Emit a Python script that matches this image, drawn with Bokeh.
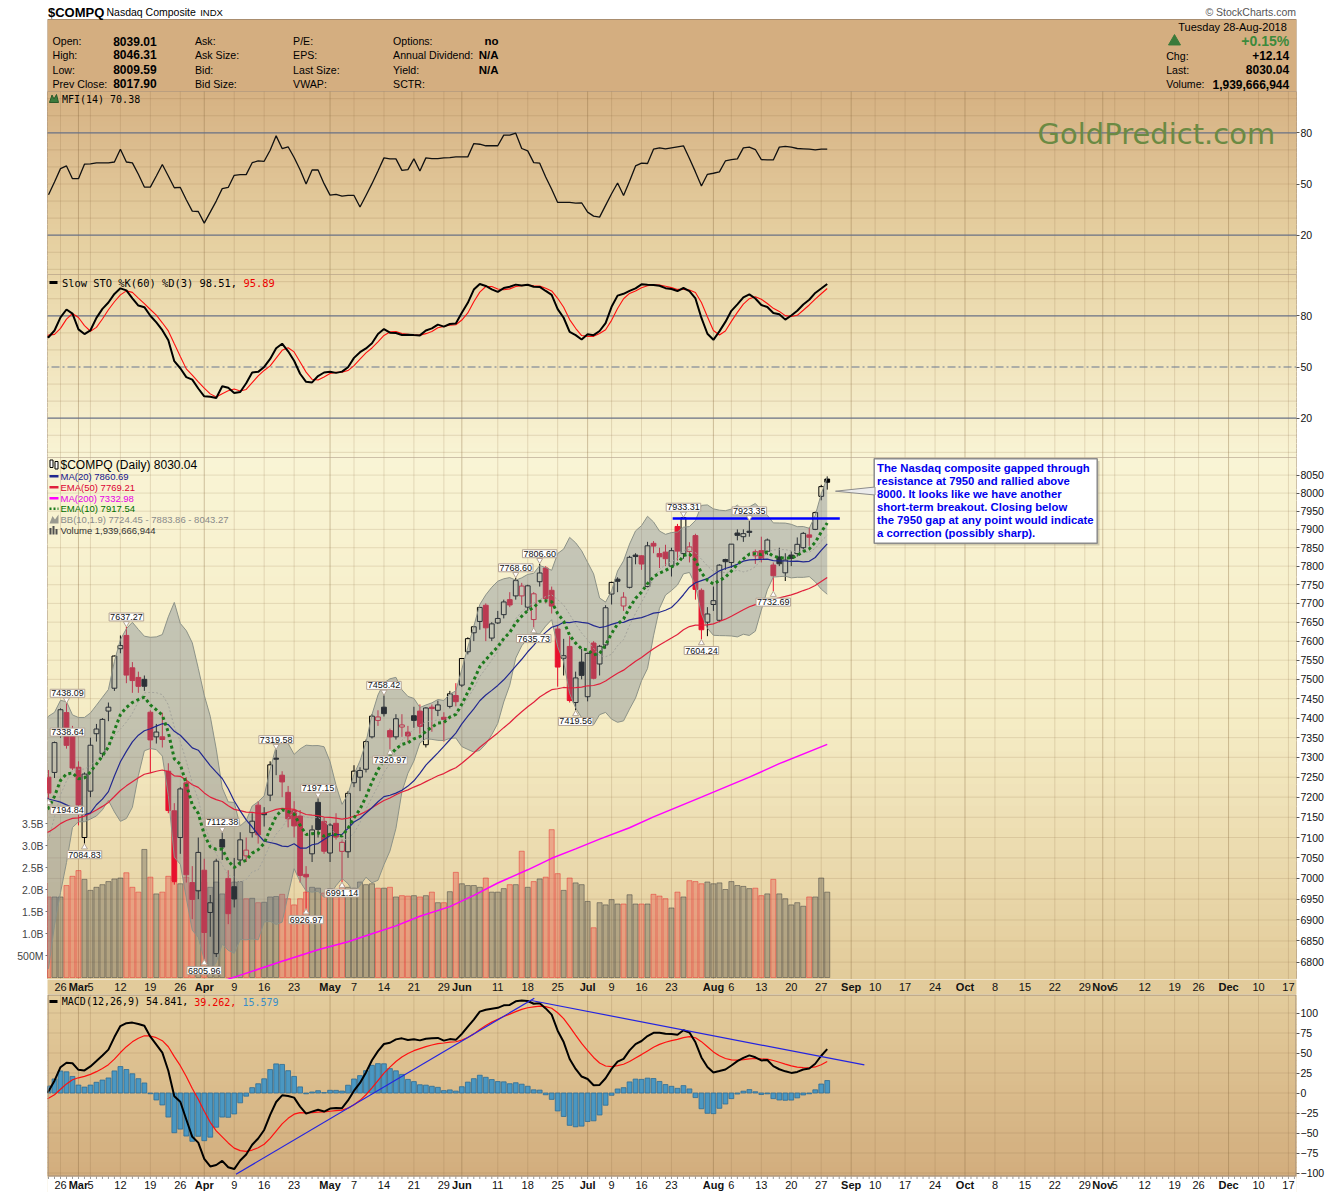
import numpy as np
from bokeh.plotting import figure
from bokeh.models import Range1d, LinearAxis, FixedTicker, Label, NumeralTickFormatter, LinearScale
from bokeh.layouts import column
from bokeh.embed import file_html
from bokeh.resources import INLINE
from bokeh.core.properties import value

# ======================= DATA =======================
FIRST_IDX = -3          # index of first candle (Feb 21 2018); Feb 26 2018 = 0, trading-day axis

# closes used only as indicator warm-up (Jan 2 .. Feb 20 2018)
WARMUP_CLOSE = [7006.90, 7065.53, 7077.91, 7136.56, 7157.39, 7163.58, 7153.57, 7211.78, 7261.06,
                7223.69, 7298.28, 7296.05, 7336.38, 7408.03, 7460.29, 7415.06, 7411.16, 7505.77,
                7466.51, 7402.48, 7411.48, 7385.86, 7240.95, 6967.53, 7115.88, 7051.98, 6777.16,
                6874.49, 6981.96, 7013.51, 7143.62, 7256.43, 7239.47, 7234.31]
EMA_SEED = {"ema10": 6950.0, "ema12": 6935.0, "ema26": 6905.0, "ema50": 6840.0, "signal": 25.0}
PRE_HIGH_IDX, PRE_HIGH = -20, 7505.77     # Jan 26 high (inside 60-day stochastic window)
PRE_LOW_IDX, PRE_LOW = -10, 6630.67       # Feb 9 low

OPEN = [7247, 7250, 7262, 7365, 7414, 7368, 7275, 7100, 7215, 7360,
        7310, 7418, 7477, 7580, 7615, 7530, 7505, 7500, 7415, 7352,
        7352, 7265, 7166, 7100, 7236, 6990, 6970, 7020, 6918, 6820,
        7095, 7000, 6980, 7045, 7055, 7112, 7180, 7160, 7205, 7298,
        7255, 7212, 7167, 7153, 7010, 7060, 7187, 7140, 7062, 7135,
        7066, 7065, 7236, 7250, 7270, 7352, 7394, 7428, 7368, 7352,
        7377, 7364, 7406, 7418, 7332, 7428, 7420, 7402, 7430, 7458,
        7485, 7572, 7622, 7652, 7695, 7608, 7648, 7670, 7710, 7720,
        7720, 7690, 7657, 7758, 7795, 7735, 7632, 7555, 7586, 7440,
        7545, 7455, 7595, 7540, 7590, 7725, 7765, 7693, 7743, 7830,
        7828, 7745, 7862, 7834, 7838, 7800, 7908, 7834, 7840, 7883,
        7735, 7650, 7697, 7655, 7818, 7810, 7890, 7880, 7895, 7828,
        7842, 7840, 7803, 7825, 7782, 7830, 7834, 7850, 7885, 7900,
        7991, 8039.01]
HIGH = [7338.64, 7268, 7340, 7425, 7438.09, 7380, 7290, 7262, 7350, 7385,
        7400, 7440, 7562, 7615, 7637.27, 7545, 7520, 7510, 7420, 7385,
        7414, 7285, 7185, 7225, 7250, 7030, 7100, 7048, 6960, 7048,
        7112.38, 7020, 7050, 7113, 7100, 7160, 7190, 7175, 7290, 7319.58,
        7265, 7228, 7190, 7168, 7030, 7130, 7197.15, 7150, 7135, 7160,
        7095, 7215, 7280, 7275, 7345, 7410, 7420, 7458.42, 7373, 7410,
        7410, 7380, 7429, 7435, 7428, 7435, 7445, 7415, 7470, 7490,
        7555, 7610, 7640, 7690, 7700, 7650, 7680, 7710, 7730, 7768.60,
        7755, 7750, 7730, 7806.60, 7800, 7745, 7640, 7606, 7613, 7520,
        7580, 7570, 7600, 7590, 7695, 7758, 7770, 7730, 7828, 7835,
        7830, 7866, 7868, 7850, 7858, 7850, 7915, 7933.31, 7865, 7888,
        7740, 7690, 7745, 7805, 7820, 7860, 7900, 7900, 7923.35, 7845,
        7880, 7875, 7810, 7850, 7835, 7840, 7878, 7893, 7905, 7949,
        8023, 8046.31]
LOW = [7212, 7194.84, 7248, 7350, 7322, 7268, 7130, 7084.83, 7200, 7340,
       7300, 7392, 7470, 7568, 7490, 7465, 7465, 7470, 7260, 7335,
       7325, 7160, 6985, 7060, 6990, 6902, 6950, 6805.96, 6860, 6812,
       7045, 6890, 6930, 7030, 7040, 7100, 7085, 7127, 7190, 7255,
       7200, 7125, 7100, 6990, 6926.97, 7040, 7100, 7060, 7040, 7095,
       6991.14, 7050, 7225, 7215, 7262, 7348, 7380, 7404, 7320.97, 7345,
       7352, 7338, 7375, 7360, 7325, 7365, 7405, 7340, 7425, 7430,
       7480, 7565, 7600, 7630, 7600, 7600, 7645, 7660, 7690, 7710,
       7696, 7680, 7635.73, 7745, 7700, 7673, 7481, 7510, 7440, 7419.56,
       7500, 7443, 7500, 7510, 7580, 7697, 7730, 7680, 7740, 7805,
       7790, 7743, 7835, 7795, 7800, 7772, 7815, 7820, 7810, 7710,
       7604.24, 7613, 7680, 7650, 7790, 7795, 7870, 7866, 7880, 7806,
       7810, 7830, 7732.69, 7800, 7760, 7800, 7826, 7845, 7855, 7898,
       7980, 8009.59]
CLOSE = [7218.23, 7210.09, 7337.39, 7421.46, 7330.35, 7273.01, 7180.56, 7257.87, 7330.70, 7372.01,
         7396.65, 7427.95, 7560.81, 7588.32, 7511.01, 7496.81, 7481.74, 7481.99, 7344.24, 7364.30,
         7345.29, 7166.68, 6992.67, 7220.54, 7008.81, 6949.23, 7063.45, 6870.12, 6941.28, 7042.11,
         7076.55, 6915.11, 6950.34, 7094.30, 7069.03, 7140.25, 7106.65, 7156.28, 7281.10, 7295.24,
         7238.06, 7146.13, 7128.60, 7007.35, 7003.74, 7118.68, 7119.80, 7066.27, 7130.70, 7100.90,
         7088.15, 7209.62, 7265.21, 7266.90, 7339.91, 7404.98, 7402.88, 7411.32, 7351.63, 7398.30,
         7382.47, 7354.34, 7394.04, 7378.46, 7425.96, 7424.43, 7433.85, 7396.59, 7462.45, 7442.12,
         7554.33, 7606.46, 7637.86, 7689.24, 7635.07, 7645.51, 7659.93, 7703.79, 7695.70, 7761.04,
         7746.38, 7747.03, 7725.59, 7781.51, 7712.95, 7692.82, 7532.01, 7561.63, 7445.08, 7503.68,
         7510.30, 7567.69, 7502.67, 7586.43, 7688.39, 7756.20, 7759.20, 7716.61, 7823.92, 7825.98,
         7805.72, 7855.12, 7854.44, 7825.30, 7820.20, 7841.87, 7840.77, 7932.24, 7852.18, 7737.42,
         7630.00, 7671.79, 7707.29, 7802.69, 7812.01, 7859.68, 7883.66, 7888.33, 7891.78, 7839.11,
         7819.71, 7870.89, 7774.12, 7806.52, 7816.33, 7821.01, 7859.17, 7889.10, 7878.46, 7945.98,
         8017.90, 8030.04]
VOLUME_B = [2.15, 1.83, 1.83, 1.83, 2.09, 2.30, 2.43, 2.23, 1.98, 2.05,
            2.11, 2.18, 2.24, 2.26, 2.38, 2.05, 1.94, 2.91, 2.28, 1.90,
            1.94, 2.30, 2.17, 2.13, 2.28, 2.09, 1.98, 2.17, 2.05, 2.17,
            1.90, 1.94, 2.17, 2.18, 1.79, 1.80, 1.70, 1.71, 1.83, 1.84,
            1.89, 1.79, 1.65, 1.79, 1.94, 2.05, 2.03, 1.92, 2.02, 1.92,
            2.09, 2.05, 2.03, 2.17, 2.11, 2.13, 2.03, 2.03, 2.05, 1.83,
            1.86, 1.85, 1.86, 1.83, 1.86, 1.94, 1.70, 1.70, 1.95, 2.39,
            2.13, 2.09, 2.09, 2.05, 2.26, 1.94, 1.94, 2.02, 2.11, 2.11,
            2.87, 2.05, 2.18, 2.24, 2.28, 3.36, 2.36, 1.98, 2.26, 2.15,
            2.11, 1.73, 1.13, 1.70, 1.65, 1.77, 1.67, 1.67, 1.88, 1.67,
            1.67, 1.67, 1.89, 1.85, 1.79, 1.58, 1.94, 1.83, 2.20, 2.18,
            2.13, 2.17, 2.13, 2.15, 2.00, 2.18, 2.09, 2.07, 2.02, 2.03,
            1.86, 1.90, 2.23, 1.90, 1.79, 1.65, 1.70, 1.62, 1.83, 1.83,
            2.26, 1.94]
MFI_FIRST_IDX = -2
MFI_VALUES = [43.7, 51.2, 59.0, 60.6, 53.1, 53.1, 61.6, 61.8, 62.4, 62.4,
              62.4, 62.9, 70.4, 62.9, 62.4, 55.7, 48.2, 48.2, 54.7, 61.4,
              54.7, 47.8, 48.0, 40.8, 34.1, 33.9, 27.1, 33.5, 40.0, 47.3,
              48.0, 55.1, 55.5, 55.5, 62.5, 63.5, 63.3, 69.8, 78.2, 70.8,
              71.8, 65.5, 58.4, 50.0, 58.2, 58.2, 50.2, 43.5, 43.9, 42.9,
              43.3, 43.3, 36.5, 43.3, 50.2, 57.6, 65.3, 64.7, 64.7, 58.0,
              58.4, 64.7, 57.6, 65.3, 64.9, 64.9, 65.3, 65.5, 65.9, 65.9,
              65.9, 73.7, 73.3, 72.4, 72.4, 72.4, 78.6, 78.6, 79.8, 70.8,
              69.4, 62.5, 62.2, 54.1, 46.9, 39.2, 39.2, 39.2, 38.8, 39.0,
              33.5, 31.2, 30.6, 37.5, 44.3, 50.6, 43.3, 51.6, 60.6, 62.2,
              62.0, 70.4, 71.2, 70.6, 71.2, 71.8, 72.4, 64.9, 57.1, 48.8,
              55.7, 56.3, 57.1, 63.5, 64.3, 64.7, 71.2, 71.6, 70.2, 64.3,
              64.1, 64.1, 71.6, 72.0, 71.6, 70.8, 70.6, 70.4, 70.0, 70.4,
              70.4]
MA200_IDX = [24, 28, 37, 43, 48, 52, 56, 60, 65, 69, 73, 78, 82, 86, 90, 95, 99, 107, 115, 120, 128]
MA200_VALUES = [6744, 6760, 6802, 6829, 6848, 6867, 6886, 6909, 6932, 6959, 6989, 7021, 7049,
                7072, 7096, 7124, 7151, 7200, 7250, 7284, 7332.98]
TAG_IDX = [-3, -2, 1, 4, 11, 27, 24, 36, 43, 41, 47, 54, 55, 76, 80, 79, 86, 104, 115, 107, 119]
TAG_PRICE = [7338.64, 7194.84, 7438.09, 7084.83, 7637.27, 7112.38, 6805.96, 7319.58, 7197.15, 6926.97,
             6991.14, 7458.42, 7320.97, 7768.60, 7806.60, 7635.73, 7419.56, 7933.31, 7923.35, 7604.24,
             7732.69]
TAG_KIND = ["H", "L", "H", "L", "H", "H", "L", "H", "H", "L", "L", "H", "L", "H", "H", "L", "L",
            "H", "H", "L", "L"]
TICK_IDX = [0, 3, 5, 10, 15, 20, 24, 29, 34, 39, 45, 49, 54, 59, 64, 67, 73, 78, 83, 88, 92, 97, 102,
            109, 112, 117, 122, 127, 132, 136, 141, 146, 151, 156, 161, 166, 171, 174, 176, 181, 186,
            190, 195, 200, 205]
TICK_TEXT = ["26", "Mar", "5", "12", "19", "26", "Apr", "9", "16", "23", "May", "7", "14", "21", "29",
             "Jun", "11", "18", "25", "Jul", "9", "16", "23", "Aug", "6", "13", "20", "27", "Sep", "10",
             "17", "24", "Oct", "8", "15", "22", "29", "Nov", "5", "12", "19", "26", "Dec", "10", "17"]
LAST_AXIS_DAY = 206
PRICE_TICKS = list(range(6800, 8051, 50))
VOL_TICKS = [500000000, 1000000000, 1500000000, 2000000000, 2500000000, 3000000000, 3500000000]
VOL_LABELS = ["500M", "1.0B", "1.5B", "2.0B", "2.5B", "3.0B", "3.5B"]
RESIST_IDX = [102.2, 130.1]
RESIST_PRICE = [7930.0, 7930.0]
MACD_TL1_IDX, MACD_TL1_VAL = [29.3, 79.1], [-101.6, 118.4]
MACD_TL2_IDX, MACD_TL2_VAL = [78.6, 134.2], [115.6, 35.1]
NOTE_LINES = ["The Nasdaq composite gapped through", "resistance at 7950 and rallied above",
              "8000. It looks like we have another", "short-term breakout. Closing below",
              "the 7950 gap at any point would indicate", "a correction (possibly sharp)."]
MAIN_LEGEND = ["$COMPQ (Daily) 8030.04", "MA(20) 7860.69", "EMA(50) 7769.21", "MA(200) 7332.98",
               "EMA(10) 7917.54", "BB(10,1.9) 7724.45 - 7883.86 - 8043.27", "Volume 1,939,666,944"]

# ======================= INDICATORS =======================
N = len(CLOSE)
NW = len(WARMUP_CLOSE)
IDX = np.arange(FIRST_IDX, FIRST_IDX + N)
C_ALL = np.array(WARMUP_CLOSE + CLOSE, float)
IDX0_ALL = FIRST_IDX - NW


def ema(vals, n, seed):
    a = 2.0 / (n + 1)
    out = np.empty(len(vals))
    prev = seed
    for k, v in enumerate(vals):
        prev = prev + a * (v - prev)
        out[k] = prev
    return out


def rolling(vals, n, fn):
    out = np.full(len(vals), np.nan)
    for k in range(n - 1, len(vals)):
        out[k] = fn(vals[k - n + 1:k + 1])
    return out


ema10 = ema(C_ALL, 10, EMA_SEED["ema10"])[NW:]
ema50 = ema(C_ALL, 50, EMA_SEED["ema50"])[NW:]
ma20 = rolling(C_ALL, 20, np.mean)[NW:]
bb_mid = rolling(C_ALL, 10, np.mean)[NW:]
bb_sd = rolling(C_ALL, 10, np.std)[NW:]
bb_up = bb_mid + 1.9 * bb_sd
bb_lo = bb_mid - 1.9 * bb_sd
macd_all = ema(C_ALL, 12, EMA_SEED["ema12"]) - ema(C_ALL, 26, EMA_SEED["ema26"])
sig_all = ema(macd_all, 9, EMA_SEED["signal"])
macd = macd_all[NW:]
sig = sig_all[NW:]
hist = macd - sig

H_ALL = C_ALL.copy()
L_ALL = C_ALL.copy()
H_ALL[NW:] = HIGH
L_ALL[NW:] = LOW
H_ALL[PRE_HIGH_IDX - IDX0_ALL] = PRE_HIGH
L_ALL[PRE_LOW_IDX - IDX0_ALL] = PRE_LOW
fastk = np.empty(len(C_ALL))
for k in range(len(C_ALL)):
    lo = max(0, k - 59)
    hh = H_ALL[lo:k + 1].max()
    ll = L_ALL[lo:k + 1].min()
    fastk[k] = (C_ALL[k] - ll) / (hh - ll) * 100.0
slowk_all = rolling(fastk, 3, np.mean)
stod_all = rolling(slowk_all, 3, np.mean)
slowk = slowk_all[NW:]
stod = stod_all[NW:]

# ======================= LAYOUT HELPERS =======================
W, ML, MR = 1340, 47, 44
X0, DX = 60.0, 5.99


def xr(rx):
    return (rx - X0) / DX


XR = Range1d(xr(47), xr(1296))
XLO, XHI = xr(47) - 2, xr(1296) + 2


def mfy(ry):
    return 80.0 - (ry - 132.3) / 1.7067


def sty(ry):
    return 80.0 - (ry - 315.3) / 1.7067


def pry(ry):
    return 8050.0 * np.exp(-(ry - 474.6) / 2886.0)


def vy(ry):
    return (977.0 - ry) / 44.0 * 1e9


def mcy(ry):
    return (1092.5 - ry) / 0.8


GRAD_STOPS = [(85, (212, 175, 128)), (91, (214, 178, 131)), (274, (233, 214, 168)),
              (457, (249, 244, 213)), (720, (245, 236, 197)), (979, (226, 203, 154)),
              (994, (227, 204, 156)), (1176, (210, 173, 125)), (1200, (207, 169, 121))]


def hexc(rgb):
    return "#%02x%02x%02x" % tuple(int(round(c)) for c in rgb)


def grad(ry):
    ys = [s[0] for s in GRAD_STOPS]
    cols = np.array([s[1] for s in GRAD_STOPS], float)
    return hexc([np.interp(ry, ys, cols[:, k]) for k in range(3)])


def add_bands(p, rtop, rbot, conv, n=36):
    e = np.linspace(rtop - 1, rbot + 1, n + 1)
    tops = [float(conv(a)) for a in e[:-1]]
    bots = [float(conv(b + 0.8)) for b in e[1:]]
    cols = [grad(0.5 * (a + b)) for a, b in zip(e[:-1], e[1:])]
    p.quad(left=XLO, right=XHI, top=tops, bottom=bots, fill_color=cols, line_color=None)


def vgrid(p, ylo, yhi):
    wk = [t for t, s in zip(TICK_IDX, TICK_TEXT) if not s.isalpha()]
    mo = [t for t, s in zip(TICK_IDX, TICK_TEXT) if s.isalpha()]
    p.segment(x0=wk, y0=[ylo] * len(wk), x1=wk, y1=[yhi] * len(wk),
              line_color="#8a6a40", line_alpha=0.2, line_width=1)
    p.segment(x0=mo, y0=[ylo] * len(mo), x1=mo, y1=[yhi] * len(mo),
              line_color="#8a6a40", line_alpha=0.38, line_width=1)


def hgrid(p, vals, color="#8a6a40", alpha=0.2, width=1, dash="solid"):
    p.segment(x0=[XLO] * len(vals), y0=vals, x1=[XHI] * len(vals), y1=vals,
              line_color=color, line_alpha=alpha, line_width=width, line_dash=dash)


def txt(p, x, y, s, size, color="black", font="Liberation Sans", style="normal",
        align="left", baseline="middle"):
    p.text(x=[x], y=[y], text=[s], text_font=value(font), text_font_size=size,
           text_color=color, text_font_style=style, text_align=align, text_baseline=baseline)


def date_labels(p, ycen):
    wk = [(t, x) for t, x in zip(TICK_IDX, TICK_TEXT) if not x.isalpha()]
    mo = [(t, x) for t, x in zip(TICK_IDX, TICK_TEXT) if x.isalpha()]
    p.text(x=[t for t, _ in wk], y=[ycen] * len(wk), text=[x for _, x in wk],
           text_font=value("Liberation Sans"), text_font_size="11px", text_color="#111111",
           text_align="center", text_baseline="middle")
    p.text(x=[t for t, _ in mo], y=[ycen] * len(mo), text=[x for _, x in mo],
           text_font=value("Liberation Sans"), text_font_size="11px", text_font_style="bold",
           text_color="#111111", text_align="center", text_baseline="middle")


def style_right_axis(p, ticks, fmt=None):
    ax = p.yaxis[0]
    ax.ticker = FixedTicker(ticks=ticks)
    if fmt is not None:
        ax.formatter = fmt
    ax.axis_line_color = None
    ax.major_tick_out = 3
    ax.major_tick_in = 0
    ax.major_tick_line_color = "#555555"
    ax.minor_tick_line_color = None
    ax.major_label_standoff = 1
    ax.major_label_text_font = "Liberation Sans"
    ax.major_label_text_font_size = "10.5px"
    ax.major_label_text_color = "#111111"


def make_panel(h, yrange, ytype="linear", axis=True, outline=True, xrange=None):
    p = figure(width=W, height=h, x_range=(xrange if xrange is not None else XR), y_range=yrange,
               y_axis_type=ytype, x_axis_location=None, y_axis_location=("right" if axis else None),
               output_backend="svg", toolbar_location=None,
               min_border_left=ML, min_border_right=MR, min_border_top=0, min_border_bottom=0)
    try:
        p.title.visible = False
    except Exception:
        pass
    p.background_fill_color = "#f0e4c0"
    p.border_fill_color = "white"
    p.outline_line_color = "#a08c7a" if outline else None
    p.grid.grid_line_color = None
    return p


# ======================= HEADER (data coords = page pixels) =======================
hdr = make_panel(91, Range1d(91, 0), axis=False, outline=False, xrange=Range1d(47, 1296))
hdr.background_fill_color = "white"
hdr.quad(left=[47], right=[1296], top=[19], bottom=[93], fill_color="#d4ae80", line_color="#a98d6f")
txt(hdr, 47.5, 11.7, "$COMPQ", "13px", style="bold")
txt(hdr, 106, 11.7, "Nasdaq Composite", "10.5px")
txt(hdr, 199.7, 12.2, "INDX", "9.5px")
txt(hdr, 1295.5, 11.7, "\u00a9 StockCharts.com", "10.5px", color="#555555", align="right")
ROWS = [40.7, 54.3, 69.3, 83.3]
for lab, val, ry in zip(["Open:", "High:", "Low:", "Prev Close:"],
                        ["8039.01", "8046.31", "8009.59", "8017.90"], ROWS):
    txt(hdr, 52, ry, lab, "10.6px")
    txt(hdr, 112.7, ry, val, "12px", style="bold")
for lab, ry in zip(["Ask:", "Ask Size:", "Bid:", "Bid Size:"], ROWS):
    txt(hdr, 194.5, ry, lab, "10.6px")
for lab, ry in zip(["P/E:", "EPS:", "Last Size:", "VWAP:"], ROWS):
    txt(hdr, 292.6, ry, lab, "10.6px")
for lab, val, ry in zip(["Options:", "Annual Dividend:", "Yield:", "SCTR:"],
                        ["no", "N/A", "N/A", ""], ROWS):
    txt(hdr, 392.6, ry, lab, "10.6px")
    if val:
        txt(hdr, 498, ry, val, "11.5px", style="bold", align="right")
txt(hdr, 1289.3, 26, "Tuesday  28-Aug-2018", "11px", align="right")
hdr.scatter(x=[1174], y=[41], marker="triangle", size=12, fill_color="#3a7a3a", line_color="#3a7a3a")
txt(hdr, 1288.7, 40.7, "+0.15%", "14px", color="#3c8a3c", style="bold", align="right")
for lab, val, ry in zip(["Chg:", "Last:", "Volume:"], ["+12.14", "8030.04", "1,939,666,944"],
                        [55.0, 69.3, 83.7]):
    txt(hdr, 1165.7, ry, lab, "10.6px")
    txt(hdr, 1288.7, ry, val, "12px", style="bold", align="right")

# ======================= MFI PANEL =======================
mfi = make_panel(183, Range1d(mfy(274), mfy(91)))
add_bands(mfi, 91, 274, mfy)
vgrid(mfi, mfy(280), mfy(85))
hgrid(mfi, [0, 10, 30, 40, 50, 60, 70, 90, 100])
hgrid(mfi, [20, 80], color="#687185", alpha=1.0, width=1.3)
mfi.line(np.arange(MFI_FIRST_IDX, MFI_FIRST_IDX + len(MFI_VALUES)), MFI_VALUES,
         line_color="#111111", line_width=1.3)
style_right_axis(mfi, [20, 50, 80])
mfi.patch([xr(49), xr(51.5), xr(53.5), xr(56), xr(58)],
          [mfy(102), mfy(94.5), mfy(98.5), mfy(94), mfy(102)], fill_color="#3c7a3c", line_color="#2a5a2a")
txt(mfi, xr(61.4), mfy(98.5), "MFI(14) 70.38", "10px", font="DejaVu Sans Mono")
txt(mfi, xr(1037), mfy(133.3), "GoldPredict.com", "29px", color="#6b8a43", font="DejaVu Sans")

# ======================= SLOW STO PANEL =======================
sto = make_panel(183, Range1d(sty(457), sty(274)))
add_bands(sto, 274, 457, sty)
vgrid(sto, sty(463), sty(268))
hgrid(sto, [0, 10, 30, 40, 60, 70, 90, 100])
hgrid(sto, [20, 80], color="#687185", alpha=1.0, width=1.3)
hgrid(sto, [50], color="#6a7890", alpha=1.0, width=1.2, dash="8 3 2 3")
sto.line(IDX, stod, line_color="#ff1010", line_width=1.1)
sto.line(IDX, slowk, line_color="#000000", line_width=2)
style_right_axis(sto, [20, 50, 80])
sto.segment(x0=[xr(49)], y0=[sty(282)], x1=[xr(57)], y1=[sty(282)], line_color="black", line_width=3)
txt(sto, xr(61.4), sty(282), "Slow STO %K(60) %D(3) 98.51,", "10.4px", font="DejaVu Sans Mono")
txt(sto, xr(61.4 + 29 * 6.26), sty(282), "95.89", "10.4px", color="#ee0000", font="DejaVu Sans Mono")

# ======================= PRICE PANEL =======================
main = make_panel(522, Range1d(pry(979), pry(457)), ytype="log")
PK = 522.0 / np.log(pry(457) / pry(979))
main.extra_y_ranges = {"vol": Range1d(vy(979), vy(457))}
try:
    main.extra_y_scales = {"vol": LinearScale()}
except Exception:
    pass
add_bands(main, 457, 979, pry, n=48)
vgrid(main, pry(985), pry(451))
hgrid(main, PRICE_TICKS, alpha=0.18)

Oa, Ha, La, Ca = (np.array(v, float) for v in (OPEN, HIGH, LOW, CLOSE))
prev_c = C_ALL[NW - 1:-1]
up = Ca >= prev_c
RED = "#e8112d"
ccol = np.where(up, "#000000", RED).tolist()
vcol = np.where(up, "#404040", "#e83030").tolist()

main.vbar(x=IDX, width=0.84, top=np.array(VOLUME_B) * 1e9, bottom=0, y_range_name="vol",
          fill_color=vcol, fill_alpha=0.3, line_color=vcol, line_alpha=0.5, line_width=1)

btop = np.maximum(Oa, Ca)
bbot = np.minimum(Oa, Ca)
hollow = Ca > Oa
main.segment(x0=IDX, y0=btop, x1=IDX, y1=Ha, line_color=ccol, line_width=1)
main.segment(x0=IDX, y0=La, x1=IDX, y1=bbot, line_color=ccol, line_width=1)
main.vbar(x=IDX, width=0.8, top=btop, bottom=bbot, fill_color=ccol,
          fill_alpha=np.where(hollow, 0.0, 1.0).tolist(), line_color=ccol, line_width=1)

main.varea(x=IDX, y1=bb_lo, y2=bb_up, fill_color="#707e8d", fill_alpha=0.38)
main.line(IDX, bb_up, line_color="#8c9288", line_width=1)
main.line(IDX, bb_lo, line_color="#8c9288", line_width=1)
main.line(IDX, bb_mid, line_color="#a4a49c", line_width=1, line_dash="2 2")
main.line(MA200_IDX, MA200_VALUES, line_color="#ff00ff", line_width=1.5)
main.line(IDX, ema50, line_color="#e0203c", line_width=1.2)
main.line(IDX, ma20, line_color="#22288f", line_width=1.2)
main.line(IDX, ema10, line_color="#1d7a1d", line_width=3, line_dash="3 3")
main.line(RESIST_IDX, RESIST_PRICE, line_color="#0000ff", line_width=2.5)

style_right_axis(main, PRICE_TICKS, NumeralTickFormatter(format="0"))
vax = LinearAxis(y_range_name="vol", ticker=FixedTicker(ticks=VOL_TICKS),
                 major_label_overrides=dict(zip(VOL_TICKS, VOL_LABELS)))
vax.axis_line_color = None
vax.major_tick_out = 2
vax.major_tick_in = 0
vax.major_tick_line_color = "#777777"
vax.minor_tick_line_color = None
vax.major_label_standoff = 2
vax.major_label_text_font = "Liberation Sans"
vax.major_label_text_font_size = "10.5px"
main.add_layout(vax, "left")

# high / low tags (kept fully inside the frame)
pad = {"padding": 1} if "padding" in Label.properties() else {}
hi_x = [i for i, k in zip(TAG_IDX, TAG_KIND) if k == "H"]
hi_y = [pr * np.exp(3.5 / PK) for pr, k in zip(TAG_PRICE, TAG_KIND) if k == "H"]
lo_x = [i for i, k in zip(TAG_IDX, TAG_KIND) if k == "L"]
lo_y = [pr * np.exp(-3.5 / PK) for pr, k in zip(TAG_PRICE, TAG_KIND) if k == "L"]
for i, pr, k in zip(TAG_IDX, TAG_PRICE, TAG_KIND):
    cx = X0 + DX * i
    xo = max(0.0, 48 + 19 - cx)
    main.add_layout(Label(x=i, y=pr, text="%.2f" % pr, x_offset=xo, y_offset=(10 if k == "H" else -11),
                          text_align="center", text_baseline="middle", text_font="Liberation Sans",
                          text_font_size="9px", text_color="#111111", background_fill_color="white",
                          border_line_color="#b4a494", border_line_width=1, **pad))
main.scatter(hi_x, hi_y, marker="inverted_triangle", size=6, fill_color="white", line_color="#b4a494")
main.scatter(lo_x, lo_y, marker="triangle", size=6, fill_color="white", line_color="#b4a494")

# comment box
SH = 11
main.quad(left=[xr(876)], right=[xr(1099)], top=[pry(449.5 + SH)], bottom=[pry(534 + SH)],
          fill_color="#8c8470", fill_alpha=0.35, line_color=None)
main.quad(left=[xr(873.7)], right=[xr(1096.7)], top=[pry(447.3 + SH)], bottom=[pry(531.7 + SH)],
          fill_color="white", line_color="#8c8c8c", line_width=1.5)
main.patch([xr(835), xr(874.5), xr(874.5)], [pry(490.7), pry(486.5), pry(494.5)],
           fill_color="#ececec", line_color="#8c8c8c", line_width=1)
for k, s in enumerate(NOTE_LINES):
    txt(main, xr(876.5), pry(456.0 + 13.06 * k + SH), s, "11.3px", color="#0000ee", style="bold")

# legend
LY = [464.3, 475.7, 486.7, 497.7, 508.3, 519.3, 529.7]
LCOL = ["#000000", "#14148c", "#dd0033", "#e600e6", "#007000", "#8a8a8a", "#333333"]
main.quad(left=[xr(49.5), xr(54.5)], right=[xr(52.5), xr(57.5)], top=[pry(459.5), pry(461)],
          bottom=[pry(467), pry(468.5)], fill_color="white", line_color="black")
for k, (s, c) in enumerate(zip(MAIN_LEGEND, LCOL)):
    txt(main, xr(60), pry(LY[k]), s, "12px" if k == 0 else "9.5px", color=c)
for k, c, d in [(1, "#22288f", "solid"), (2, "#e0203c", "solid"), (3, "#ff00ff", "solid"),
                (4, "#1d7a1d", "2 2")]:
    main.segment(x0=[xr(49)], y0=[pry(LY[k])], x1=[xr(58)], y1=[pry(LY[k])], line_color=c,
                 line_width=2.5, line_dash=d)
main.patch([xr(49), xr(52), xr(54.5), xr(58), xr(58)],
           [pry(523), pry(515.5), pry(519), pry(514), pry(523)], fill_color="#9a9a90", line_color=None)
main.quad(left=[xr(49), xr(52), xr(55)], right=[xr(51), xr(54), xr(57)],
          top=[pry(527.5), pry(525.5), pry(528.5)], bottom=[pry(534)] * 3,
          fill_color="#505050", line_color=None)

# ======================= DATE STRIP (between price and MACD) =======================
strip1 = make_panel(15, Range1d(0, 15), axis=False, outline=False)
strip1.background_fill_color = grad(986)
date_labels(strip1, 7.5)

# ======================= MACD PANEL (+ white bottom date row) =======================
mc = make_panel(198, Range1d(mcy(1192), mcy(994)), outline=False)
add_bands(mc, 994, 1176, mcy)
vgrid(mc, mcy(1176), mcy(990))
hgrid(mc, [-100, -75, -50, -25, 0, 25, 50, 75, 100], alpha=0.18)
mc.vbar(x=IDX, width=0.8, top=hist, bottom=0, fill_color="#4a97c2", line_color="#2e6c94",
        line_width=0.8)
mc.line(IDX, sig, line_color="#ff1010", line_width=1.2)
mc.line(IDX, macd, line_color="#000000", line_width=2)
mc.line(MACD_TL1_IDX, MACD_TL1_VAL, line_color="#2424e0", line_width=1.2)
mc.line(MACD_TL2_IDX, MACD_TL2_VAL, line_color="#2424e0", line_width=1.2)
style_right_axis(mc, [-100, -75, -50, -25, 0, 25, 50, 75, 100])
mc.segment(x0=[xr(49)], y0=[mcy(1001)], x1=[xr(57)], y1=[mcy(1001)], line_color="black", line_width=3)
txt(mc, xr(61.3), mcy(1001), "MACD(12,26,9) 54.841,", "10px", font="DejaVu Sans Mono")
txt(mc, xr(61.3 + 22 * 6.02), mcy(1001), "39.262,", "10px", color="#ee0000", font="DejaVu Sans Mono")
txt(mc, xr(61.3 + 30 * 6.02), mcy(1001), "15.579", "10px", color="#3a8ec8", font="DejaVu Sans Mono")
# white row below the MACD frame, with small daily ticks and the date labels
mc.quad(left=[XLO], right=[XHI], top=[mcy(1176)], bottom=[mcy(1194)], fill_color="white", line_color=None)
days = list(range(FIRST_IDX + 1, LAST_AXIS_DAY + 1))
mc.segment(x0=days, y0=[mcy(1176)] * len(days), x1=days, y1=[mcy(1178.5)] * len(days),
           line_color="#9a9a9a", line_width=1)
mc.quad(left=[xr(47.5)], right=[xr(1295.5)], top=[mcy(994.5)], bottom=[mcy(1175.5)],
        fill_color=None, line_color="#a08c7a", line_width=1)
date_labels(mc, mcy(1184))

layout = column(hdr, mfi, sto, main, strip1, mc, spacing=0)
open("out.html", "w").write(file_html(layout, INLINE, "$COMPQ Nasdaq Composite"))
